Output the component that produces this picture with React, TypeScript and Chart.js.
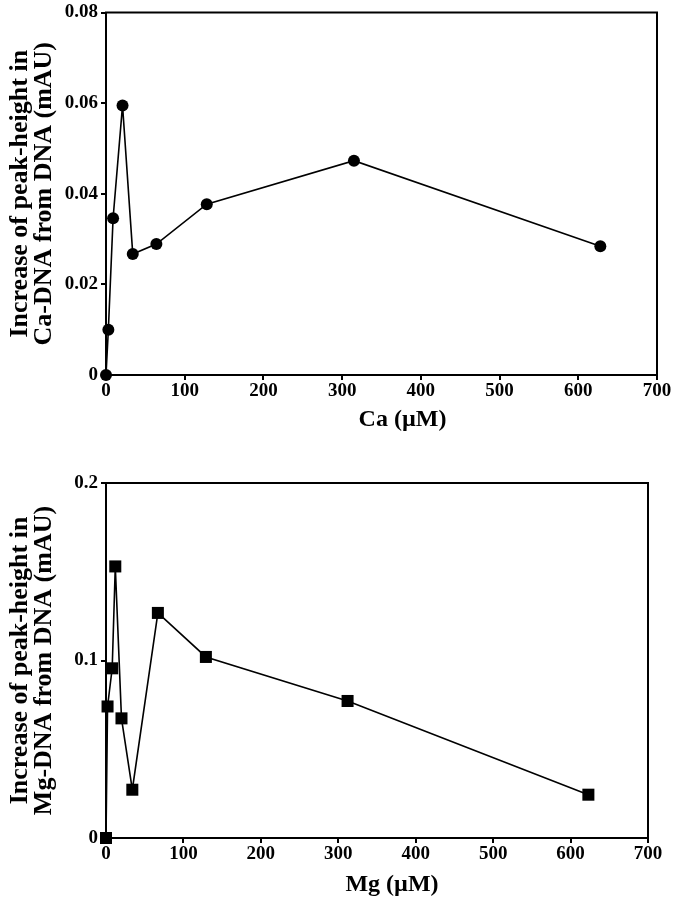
import React, { useEffect, useRef } from 'react';
import { Chart, registerables } from 'chart.js';

Chart.register(...registerables);

// ---- data ----
const caX = [0, 3, 9, 21, 34, 64, 128, 315, 628];
const caY = [0, 0.01, 0.0346, 0.0595, 0.0267, 0.0289, 0.0377, 0.0473, 0.0284];
const mgX = [0, 2, 8, 12, 20, 34, 67, 129, 312, 623];
const mgY = [0, 0.0741, 0.0956, 0.153, 0.0674, 0.0272, 0.1268, 0.102, 0.0772, 0.0244];
const xTickValues = [0, 100, 200, 300, 400, 500, 600, 700];
const caYTickValues = [0, 0.02, 0.04, 0.06, 0.08];
const mgYTickValues = [0, 0.1, 0.2];
const caYTitle = ['Increase of peak-height in', 'Ca-DNA from DNA (mAU)'];
const mgYTitle = ['Increase of peak-height in', 'Mg-DNA from DNA (mAU)'];
const caXTitle = '       Ca (\u00B5M)';
const mgXTitle = '     Mg (\u00B5M)';

const FONT = '"Liberation Serif", "Times New Roman", serif';

const framePlugin = {
  id: 'frameBox',
  afterDraw(chart: any) {
    const { ctx, chartArea: a } = chart;
    ctx.save();
    ctx.strokeStyle = '#000';
    ctx.lineWidth = 2;
    ctx.strokeRect(a.left, a.top, a.right - a.left, a.bottom - a.top);
    ctx.restore();
  },
};

type Props = {
  xs: number[];
  ys: number[];
  yTicks: number[];
  yMax: number;
  decimals: number;
  yTitle: string[];
  xTitle: string;
  pointStyle: string;
  radius: number;
  width: number;
  height: number;
  padTop: number;
  padRight: number;
  xScaleHeight: number;
  xTitlePadBottom: number;
};

function Plot(p: Props) {
  const ref = useRef<HTMLCanvasElement | null>(null);
  useEffect(() => {
    if (!ref.current) return;
    const data = p.xs.map((x, i) => ({ x, y: p.ys[i] }));
    const chart = new Chart(ref.current, {
      type: 'line',
      data: {
        datasets: [
          {
            data,
            borderColor: '#000',
            borderWidth: 1.6,
            backgroundColor: '#000',
            pointBackgroundColor: '#000',
            pointBorderColor: '#000',
            pointStyle: p.pointStyle as any,
            pointRadius: p.radius,
            pointBorderWidth: 0,
            tension: 0,
            clip: false as any,
          },
        ],
      },
      options: {
        animation: false,
        responsive: false,
        events: [],
        layout: { padding: { top: p.padTop, right: p.padRight, left: 0, bottom: 0 } },
        plugins: { legend: { display: false }, tooltip: { enabled: false } },
        scales: {
          x: {
            type: 'linear',
            min: 0,
            max: 700,
            afterBuildTicks: (s: any) => {
              s.ticks = xTickValues.map((v) => ({ value: v }));
            },
            afterFit: (s: any) => {
              s.height = p.xScaleHeight;
            },
            border: { display: true, color: '#000', width: 2 },
            grid: { display: true, drawOnChartArea: false, drawTicks: true, tickLength: 5, color: '#000', lineWidth: 2 },
            ticks: {
              color: '#000',
              padding: 2,
              maxRotation: 0,
              autoSkip: false,
              font: { family: FONT, size: 19, weight: 'bold', lineHeight: 1.0 },
              callback: (v: any) => String(v),
            },
            title: {
              display: true,
              text: p.xTitle,
              color: '#000',
              padding: { top: 0, bottom: p.xTitlePadBottom },
              font: { family: FONT, size: 24, weight: 'bold', lineHeight: 1.2 },
            },
          },
          y: {
            type: 'linear',
            min: 0,
            max: p.yMax,
            afterBuildTicks: (s: any) => {
              s.ticks = p.yTicks.map((v) => ({ value: v }));
            },
            afterFit: (s: any) => {
              s.width = 106;
            },
            border: { display: true, color: '#000', width: 2 },
            grid: { display: true, drawOnChartArea: false, drawTicks: true, tickLength: 5, color: '#000', lineWidth: 2 },
            ticks: {
              color: '#000',
              padding: 3,
              autoSkip: false,
              font: { family: FONT, size: 19, weight: 'bold', lineHeight: 1.0 },
              callback: (v: any) => (Number(v) === 0 ? '0' : Number(v).toFixed(p.decimals)),
            },
            title: {
              display: true,
              text: p.yTitle,
              color: '#000',
              padding: { top: 8, bottom: 0 },
              font: { family: FONT, size: 26, weight: 'bold', lineHeight: 0.92 },
            },
          },
        },
      },
      plugins: [framePlugin],
    } as any);
    return () => chart.destroy();
  }, []);
  return <canvas ref={ref} width={p.width} height={p.height} style={{ display: 'block', width: p.width, height: p.height }} />;
}

export default function App() {
  return (
    <div style={{ position: 'absolute', left: 0, top: 0, width: 676, height: 900, background: '#fff' }}>
      <div style={{ position: 'absolute', left: 0, top: 0 }}>
        <Plot
          xs={caX}
          ys={caY}
          yTicks={caYTickValues}
          yMax={0.08}
          decimals={2}
          yTitle={caYTitle}
          xTitle={caXTitle}
          pointStyle="circle"
          radius={6}
          width={676}
          height={440}
          padTop={9}
          padRight={19}
          xScaleHeight={65}
          xTitlePadBottom={6}
        />
      </div>
      <div style={{ position: 'absolute', left: 0, top: 440 }}>
        <Plot
          xs={mgX}
          ys={mgY}
          yTicks={mgYTickValues}
          yMax={0.2}
          decimals={1}
          yTitle={mgYTitle}
          xTitle={mgXTitle}
          pointStyle="rect"
          radius={8.5}
          width={676}
          height={460}
          padTop={43}
          padRight={28}
          xScaleHeight={62}
          xTitlePadBottom={1}
        />
      </div>
    </div>
  );
}
